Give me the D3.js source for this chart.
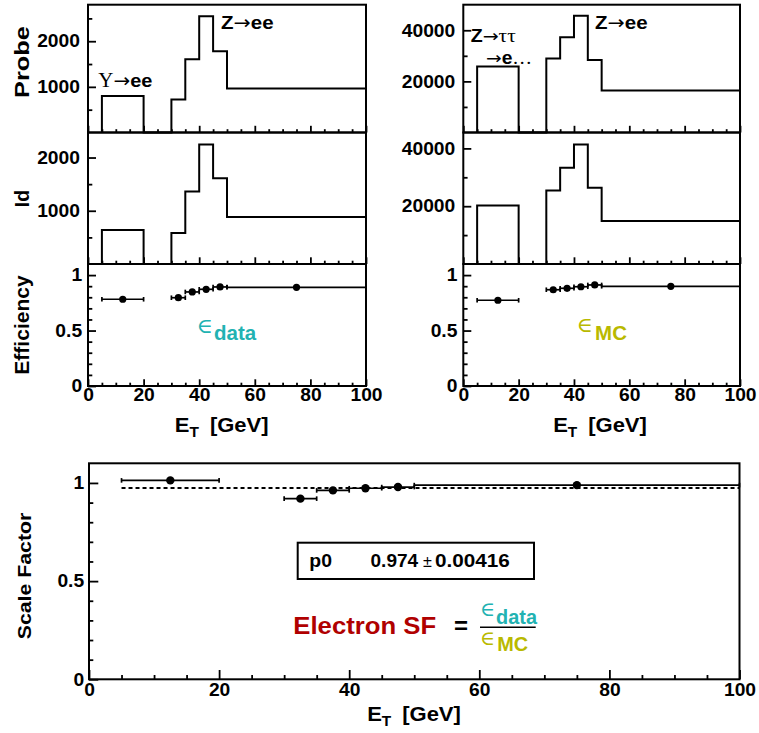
<!DOCTYPE html>
<html><head><meta charset="utf-8">
<script src="https://cdn.jsdelivr.net/npm/d3@7"></script>
<style>body{margin:0;background:#fff} svg{display:block}</style>
</head><body><svg id="c" width="759" height="733"></svg>
<script>
// ---------------- data ----------------
const binEdges = [5, 20, 30, 35, 40, 45, 50, 100];
const probeLeft = [802, 0, 723, 1606, 2548, 1781, 964];      // data, probe electrons
const idLeft = [638, 0, 581, 1363, 2245, 1613, 881];        // data, identified
const probeRight = [25860, 0, 29000, 37230, 45690, 28330, 16460]; // MC, probe
const idRight = [20280, 0, 25470, 33280, 41360, 26370, 14860];    // MC, identified

const effLow = [5, 30, 35, 40, 45, 50];
const effHigh = [20, 35, 40, 45, 50, 100];
const effCenter = [12.5, 32.5, 37.5, 42.5, 47.5, 75];
const effData = [0.782, 0.796, 0.848, 0.872, 0.893, 0.890];
const effMC = [0.773, 0.868, 0.881, 0.895, 0.911, 0.899];
const scaleFactor = [1.013, 0.920, 0.962, 0.973, 0.979, 0.989];

const fitP0 = 0.974;
const fitErrText = "0.00416";
const fitRange = [5, 100];

const xMajor = [0, 20, 40, 60, 80, 100];
const xMinor = [5, 10, 15, 25, 30, 35, 45, 50, 55, 65, 70, 75, 85, 90, 95];
const probeLMajor = [1000, 2000], probeLMinor = [500, 1500, 2500];
const idLMajor = [1000, 2000], idLMinor = [500, 1500];
const probeRMajor = [20000, 40000], probeRMinor = [10000, 30000];
const idRMajor = [20000, 40000], idRMinor = [10000, 30000];
const effMajor = [0, 0.5, 1], effMinor = [0.1, 0.2, 0.3, 0.4, 0.6, 0.7, 0.8, 0.9];

const COL_DATA = "#22b2b2", COL_MC = "#b9b900", COL_SF = "#b00000";
const SANS = "'Liberation Sans', Arial, Helvetica, sans-serif";
const SERIF = "'Liberation Serif', 'Times New Roman', serif";
const MATH = "'DejaVu Serif', 'DejaVu Sans', serif";
const ARROW = "'DejaVu Sans', sans-serif";

const svg = d3.select("#c");
svg.append("rect").attr("width", 759).attr("height", 733).attr("fill", "#fff");

// ---------------- helpers ----------------
function rich(parent, x, y, parts, opt = {}) {
  const sx = opt.sx ?? 1.1;
  let tr = `translate(${x},${y})`;
  if (opt.rotate) tr += ` rotate(${opt.rotate})`;
  tr += ` scale(${sx},1)`;
  const t = parent.append("text").attr("transform", tr)
    .attr("text-anchor", opt.anchor || "start")
    .attr("font-family", SANS).attr("font-weight", "bold")
    .attr("font-size", opt.size || 18).attr("fill", opt.fill || "#000");
  parts.forEach(p => {
    const ts = t.append("tspan").text(p.t);
    if (p.font) ts.attr("font-family", p.font);
    if (p.weight) ts.attr("font-weight", p.weight);
    if (p.size) ts.attr("font-size", p.size);
    if (p.fill) ts.attr("fill", p.fill);
    if (p.dy) ts.attr("dy", p.dy);
    if (p.dx) ts.attr("dx", p.dx);
  });
  return t;
}

function styleAxis(a) {
  a.attr("font-family", SANS).attr("font-size", 18).attr("font-weight", "bold");
  a.selectAll(".domain").remove();
  a.selectAll("line").attr("stroke", "#000").attr("stroke-width", 1.8);
  a.selectAll("text").attr("fill", "#000").attr("transform", "scale(1.07,1)");
}

function yAxis(g, scale, x, major, minor, mLen, nLen, pad, showLabels) {
  const a = g.append("g").attr("transform", `translate(${x},0)`);
  const ax = d3.axisLeft(scale).tickValues(major).tickSize(-mLen).tickSizeOuter(0).tickPadding(pad)
    .tickFormat(showLabels ? (d => String(d)) : "");
  a.call(ax);
  const b = g.append("g").attr("transform", `translate(${x},0)`);
  b.call(d3.axisLeft(scale).tickValues(minor).tickSize(-nLen).tickSizeOuter(0).tickFormat(""));
  styleAxis(a); styleAxis(b);
}

function xAxis(g, scale, y, mLen, nLen, pad, showLabels) {
  const a = g.append("g").attr("transform", `translate(0,${y})`);
  a.call(d3.axisBottom(scale).tickValues(xMajor).tickSize(-mLen).tickSizeOuter(0).tickPadding(pad)
    .tickFormat(showLabels ? (d => String(d)) : ""));
  const b = g.append("g").attr("transform", `translate(0,${y})`);
  b.call(d3.axisBottom(scale).tickValues(xMinor).tickSize(-nLen).tickSizeOuter(0).tickFormat(""));
  styleAxis(a); styleAxis(b);
}

function frame(g, x, y) {
  g.append("rect").attr("x", x.range()[0]).attr("y", y.range()[1])
    .attr("width", x.range()[1] - x.range()[0]).attr("height", y.range()[0] - y.range()[1])
    .attr("fill", "none").attr("stroke", "#000").attr("stroke-width", 2);
}

function hist(g, x, y, vals) {
  const pts = [[binEdges[0], 0]];
  vals.forEach((v, i) => { pts.push([binEdges[i], v]); pts.push([binEdges[i + 1], v]); });
  pts.push([binEdges[binEdges.length - 1], 0]);
  g.append("path").attr("d", d3.line().x(d => x(d[0])).y(d => y(d[1]))(pts))
    .attr("fill", "none").attr("stroke", "#000").attr("stroke-width", 2).attr("stroke-linejoin", "miter");
}

function points(g, x, y, vals, r, cap) {
  vals.forEach((v, i) => {
    const yy = y(v);
    g.append("line").attr("x1", x(effLow[i])).attr("x2", x(effHigh[i])).attr("y1", yy).attr("y2", yy)
      .attr("stroke", "#000").attr("stroke-width", 1.7);
    [effLow[i], effHigh[i]].forEach(e => {
      g.append("line").attr("x1", x(e)).attr("x2", x(e)).attr("y1", yy - cap).attr("y2", yy + cap)
        .attr("stroke", "#000").attr("stroke-width", 1.7);
    });
  });
  g.selectAll(null).data(vals).enter().append("circle")
    .attr("cx", (d, i) => x(effCenter[i])).attr("cy", d => y(d)).attr("r", r).attr("fill", "#000");
}

// ---------------- scales ----------------
const xL = d3.scaleLinear().domain([0, 100]).range([88, 366]);
const xR = d3.scaleLinear().domain([0, 100]).range([463.3, 740]);
const yProbeL = d3.scaleLinear().domain([0, 2800]).range([132.5, 4.7]);
const yIdL = d3.scaleLinear().domain([0, 2470]).range([264, 132.5]);
const yEff = d3.scaleLinear().domain([0, 1.1]).range([386, 264]);
const yProbeR = d3.scaleLinear().domain([0, 50000]).range([132.5, 4.7]);
const yIdR = d3.scaleLinear().domain([0, 45500]).range([264, 132.5]);
const xB = d3.scaleLinear().domain([0, 100]).range([89, 739.5]);
const yB = d3.scaleLinear().domain([0, 1.1]).range([679.3, 463.3]);

const g = svg.append("g");

// ---------------- left column (data) ----------------
hist(g, xL, yProbeL, probeLeft);
hist(g, xL, yIdL, idLeft);
points(g, xL, yEff, effData, 3.6, 2.3);
[[yProbeL, probeLMajor, probeLMinor], [yIdL, idLMajor, idLMinor]].forEach(([y, M, m]) => {
  yAxis(g, y, 88, M, m, 8, 4.3, 7.5, true);
  xAxis(g, xL, y.range()[0], 6.7, 3.3, 2.5, false);
  frame(g, xL, y);
});
yAxis(g, yEff, 88, effMajor, effMinor, 8, 4.3, 5.5, true);
xAxis(g, xL, 386, 6.7, 3.3, 2.5, true);
frame(g, xL, yEff);

// ---------------- right column (MC) ----------------
hist(g, xR, yProbeR, probeRight);
hist(g, xR, yIdR, idRight);
points(g, xR, yEff, effMC, 3.6, 2.3);
[[yProbeR, probeRMajor, probeRMinor], [yIdR, idRMajor, idRMinor]].forEach(([y, M, m]) => {
  yAxis(g, y, 463.3, M, m, 8, 4.3, 7.5, true);
  xAxis(g, xR, y.range()[0], 6.7, 3.3, 2.5, false);
  frame(g, xR, y);
});
yAxis(g, yEff, 463.3, effMajor, effMinor, 8, 4.3, 5.5, true);
xAxis(g, xR, 386, 6.7, 3.3, 2.5, true);
frame(g, xR, yEff);

// ---------------- bottom (scale factor) ----------------
g.append("line").attr("x1", xB(fitRange[0])).attr("x2", xB(fitRange[1]))
  .attr("y1", yB(fitP0)).attr("y2", yB(fitP0))
  .attr("stroke", "#000").attr("stroke-width", 2).attr("stroke-dasharray", "4,3");
points(g, xB, yB, scaleFactor, 4.2, 2.3);
yAxis(g, yB, 89, effMajor, effMinor, 9.3, 4.3, 4.5, true);
xAxis(g, xB, 679.3, 9.3, 4.3, 4, true);
frame(g, xB, yB);

// ---------------- axis titles ----------------
rich(g, 29, 62, [{ t: "Probe" }], { rotate: -90, anchor: "middle", size: 19.5, sx: 1.3 });
rich(g, 29, 198.5, [{ t: "Id" }], { rotate: -90, anchor: "middle", size: 19.5, sx: 1.0 });
rich(g, 29, 325, [{ t: "Efficiency" }], { rotate: -90, anchor: "middle", size: 19.5, sx: 1.08 });
rich(g, 31, 576, [{ t: "Scale Factor" }], { rotate: -90, anchor: "middle", size: 19, sx: 1.12 });

function etTitle(x, y) {
  rich(g, x, y, [{ t: "E" }, { t: "T", size: 14, dy: 5 }, { t: "[GeV]", dy: -5, dx: 10 }],
    { anchor: "middle", size: 20, sx: 1.1 });
}
etTitle(221.7, 431.7);
etTitle(600, 431.7);
etTitle(414, 721);

// ---------------- annotations ----------------
rich(g, 98.3, 87.3, [{ t: "Υ", font: SERIF, weight: "normal", size: 20 },
  { t: "→", font: ARROW, weight: "normal", size: 19 }, { t: "ee" }], { size: 19, sx: 1.05 });
rich(g, 221, 29.3, [{ t: "Z" }, { t: "→", font: ARROW, weight: "normal", size: 19 }, { t: "ee" }], { size: 19, sx: 1.08 });
rich(g, 595, 29.3, [{ t: "Z" }, { t: "→", font: ARROW, weight: "normal", size: 19 }, { t: "ee" }], { size: 19, sx: 1.08 });
rich(g, 470.7, 42.3, [{ t: "Z" }, { t: "→", font: ARROW, weight: "normal", size: 17 },
  { t: "ττ", font: SERIF, weight: "normal", size: 19 }], { size: 17.5, sx: 1.12 });
rich(g, 486, 63.5, [{ t: "→", font: ARROW, weight: "normal", size: 17 }, { t: "e" },
  { t: "…", font: SERIF, weight: "normal", size: 18 }], { size: 17.5, sx: 1.1 });

// epsilon labels
rich(g, 196.7, 332.7, [{ t: "∈", font: MATH, weight: "normal", size: 21 },
  { t: "data", dy: 7.3, dx: 1, size: 19.5 }], { fill: COL_DATA, sx: 1.05 });
rich(g, 576.7, 332.3, [{ t: "∈", font: MATH, weight: "normal", size: 21 },
  { t: "MC", dy: 7.7, dx: 2, size: 19.5 }], { fill: COL_MC, sx: 1.05 });

// fit box
g.append("rect").attr("x", 297.7).attr("y", 542.7).attr("width", 236.3).attr("height", 36.3)
  .attr("fill", "#fff").attr("stroke", "#000").attr("stroke-width", 2);
rich(g, 309.3, 567, [{ t: "p0" }], { size: 18.5, sx: 1.05 });
rich(g, 370.5, 567, [{ t: String(fitP0) }], { size: 18.5, sx: 1.03 });
rich(g, 423, 567, [{ t: "±", weight: "normal" }], { size: 17, sx: 0.95 });
rich(g, 435, 567, [{ t: fitErrText }], { size: 18.5, sx: 1.12 });

// Electron SF formula
rich(g, 293.3, 633.5, [{ t: "Electron SF" }], { size: 24.5, fill: COL_SF, sx: 1.05 });
rich(g, 454, 633.5, [{ t: "=" }], { size: 24, sx: 1.0 });
g.append("line").attr("x1", 480).attr("x2", 535.7).attr("y1", 627.3).attr("y2", 627.3)
  .attr("stroke", "#000").attr("stroke-width", 1.4);
rich(g, 480, 616, [{ t: "∈", font: MATH, weight: "normal", size: 20 },
  { t: "data", dy: 8, dx: 1, size: 19.5 }], { fill: COL_DATA, sx: 1.02 });
rich(g, 480, 645, [{ t: "∈", font: MATH, weight: "normal", size: 20 },
  { t: "MC", dy: 5.7, dx: 2, size: 19.5 }], { fill: COL_MC, sx: 1.02 });
</script>
</body></html>
